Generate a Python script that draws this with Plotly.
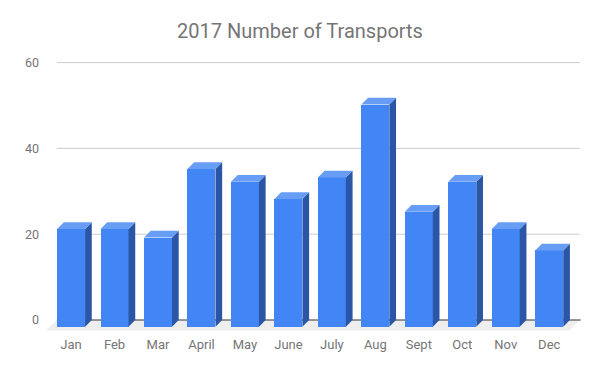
import plotly.graph_objects as go

# ---- data ----
months = ["Jan", "Feb", "Mar", "April", "May", "June", "July", "Aug", "Sept", "Oct", "Nov", "Dec"]
transports = [22, 22, 20, 36, 33, 29, 34, 51, 26, 33, 22, 17]
y_ticks = [0, 20, 40, 60]

# ---- style / geometry constants ----
FRONT = "#4285F4"
SIDE = "#2B56A6"
TOP = "#689DF6"
FLOOR = "#EEEEEE"
GRID = "#CCCCCC"
TEXT = "#757575"

BODY = 8              # default html body margin that offsets the figure
PX_X = 43.47          # pixels per x unit
PX_Y = 4.3            # pixels per y unit
DX = 0.154            # depth offset in x units
HALF = 0.78           # half depth in y units
DY = 2 * HALF
BAR_W = 0.644
GRID_X0, GRID_X1 = -0.48, 11.55
FLOOR_DX, FLOOR_DY = 0.253, 2.49
X_RANGE = [-0.8, 11.6]
Y_RANGE = [-2.8, 62.0]

fig = go.Figure()

shapes = []
# floor
shapes.append(dict(
    type="path", xref="x", yref="y", layer="below",
    path=(f"M {GRID_X0},0 L {GRID_X1},0 L {GRID_X1 - FLOOR_DX},{-FLOOR_DY} "
          f"L {GRID_X0 - FLOOR_DX},{-FLOOR_DY} Z"),
    fillcolor=FLOOR, line=dict(width=0)))
# gridlines
for t in y_ticks[1:]:
    shapes.append(dict(type="line", xref="x", yref="y", layer="below",
                       x0=GRID_X0, x1=GRID_X1, y0=t, y1=t,
                       line=dict(color=GRID, width=1)))
# baseline
shapes.append(dict(type="line", xref="x", yref="y", layer="below",
                   x0=GRID_X0, x1=GRID_X1 + 0.02, y0=0, y1=0,
                   line=dict(color="#333333", width=1.2)))

xs_front = [i - DX for i in range(len(months))]

# front faces
fig.add_trace(go.Bar(
    x=xs_front,
    y=[v - HALF + DY for v in transports],
    base=-DY,
    width=BAR_W,
    marker=dict(color=FRONT, line=dict(width=0)),
    showlegend=False,
    hovertext=months, hoverinfo="text"))

# side faces and top faces
for xc, v in zip(xs_front, transports):
    xl = xc - BAR_W / 2
    xr = xc + BAR_W / 2
    ft = v - HALF
    fb = -DY
    fig.add_trace(go.Scatter(
        x=[xr, xr, xr + DX, xr + DX, xr],
        y=[fb, ft, ft + DY, fb + DY, fb],
        fill="toself", fillcolor=SIDE, mode="lines", line=dict(width=0),
        hoverinfo="skip", showlegend=False))
    fig.add_trace(go.Scatter(
        x=[xl, xr, xr + DX, xl + DX, xl],
        y=[ft, ft, ft + DY, ft + DY, ft],
        fill="toself", fillcolor=TOP, mode="lines", line=dict(width=0),
        hoverinfo="skip", showlegend=False))

# layout (pixel positions measured in the 600x371 window)
x0_px = 77.7
l = x0_px + X_RANGE[0] * PX_X
r_px = x0_px + X_RANGE[1] * PX_X
y0_px = 320.3
t_px = y0_px - Y_RANGE[1] * PX_Y
b_px = y0_px - Y_RANGE[0] * PX_Y

W, H = 600 - BODY, 371 - BODY
fig.update_layout(
    width=W, height=H,
    margin=dict(l=l - BODY, r=600 - r_px, t=t_px - BODY, b=371 - b_px, pad=0),
    paper_bgcolor="white", plot_bgcolor="white",
    font=dict(family="Roboto", color=TEXT, size=12),
    title=dict(text="2017 Number of Transports", x=(300 - BODY) / W, xanchor="center",
               y=1 - (31 - BODY) / H, yanchor="middle",
               font=dict(family="Roboto", size=20, color=TEXT)),
    xaxis=dict(range=X_RANGE, tickvals=xs_front, ticktext=months,
               showgrid=False, zeroline=False, showline=False, ticks="",
               tickfont=dict(size=13, color=TEXT), ticklabelstandoff=3),
    yaxis=dict(range=Y_RANGE, tickvals=y_ticks, showgrid=False, zeroline=False,
               showline=False, ticks="", tickfont=dict(size=12.5, color=TEXT),
               ticklabelstandoff=3),
    shapes=shapes,
    bargap=0,
)

fig.write_html("out.html")
